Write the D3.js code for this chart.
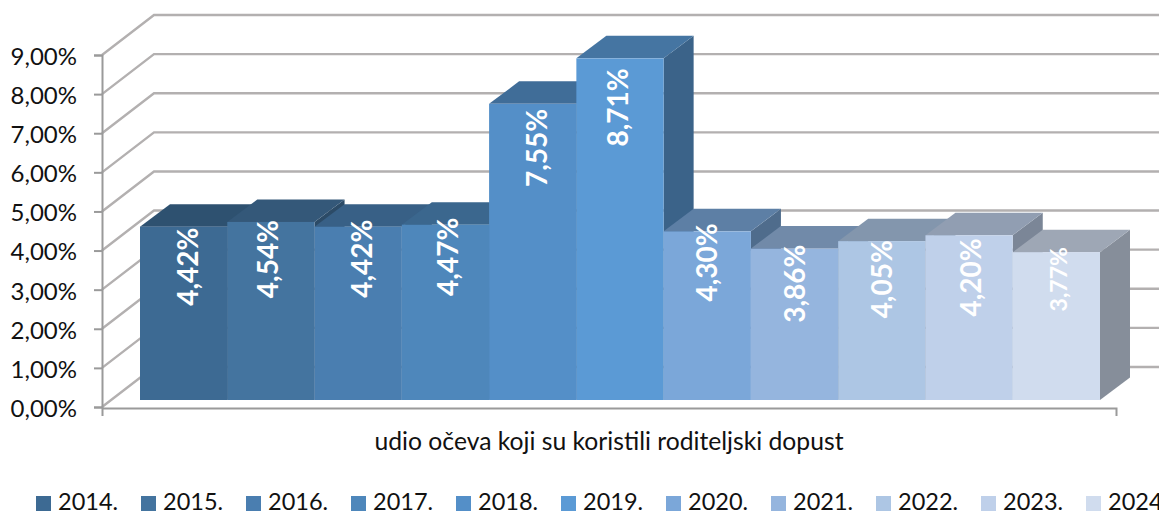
<!DOCTYPE html>
<html>
<head>
<meta charset="utf-8">
<script src="https://cdn.jsdelivr.net/npm/d3@7"></script>
<style>
html,body{margin:0;padding:0;background:#fff;overflow:hidden}
svg{display:block}
text{font-family:Lato,"Open Sans",sans-serif}
</style>
</head>
<body>
<svg id="chart" width="1159" height="512"></svg>
<script>
const years = ["2014.","2015.","2016.","2017.","2018.","2019.","2020.","2021.","2022.","2023.","2024."];
const values = [4.42,4.54,4.42,4.47,7.55,8.71,4.30,3.86,4.05,4.20,3.77];
const valueLabels = ["4,42%","4,54%","4,42%","4,47%","7,55%","8,71%","4,30%","3,86%","4,05%","4,20%","3,77%"];
const barColors = ["#3d6a93","#44749f","#4a7eb0","#4e87bb","#548fc8","#5b9ad5","#7ba7d9","#95b5de","#adc6e4","#bfd0ea","#d0dcee"];
const yTicks = [0,1,2,3,4,5,6,7,8,9];
const categoryTitle = "udio očeva koji su koristili roditeljski dopust";
// the source labels were hand-placed along their bars
const labelNudge = [1,-2,-7,-7,5,10,-8,-4,-1,3,-5];
const labelShift = [4,-3,4,2,4,-2,0,0,0,2,2];

const svg = d3.select("#chart");
const axisY = d3.scaleLinear().domain([0,9]).range([407,55]);
const barY = d3.scaleLinear().domain([0,9]).range([400,47]);
const barX = d3.scaleBand().domain(years).range([140,1100]);
const wall = {dx:52, dy:40, right:1159};
const depth = {dx:30, dy:22.5};
const grid = "#b3b0b0";

// walls
const g = svg.append("g").attr("fill","none").attr("stroke",grid).attr("stroke-width",2.4);
g.selectAll("path").data(yTicks).join("path")
  .attr("d", d => {
    const y = axisY(d);
    return d3.line()([[102,y],[102+wall.dx,y-wall.dy],[wall.right,y-wall.dy]]);
  });

// axes
const yAxis = svg.append("g").attr("transform","translate(102,0)")
  .call(d3.axisLeft(axisY).tickValues(yTicks).tickSize(8).tickPadding(17)
    .tickFormat(d => d3.format(".2f")(d).replace(".",",")+"%"));
const xBand = d3.scaleBand().domain([categoryTitle]).range([102,1116]);
const xAxis = svg.append("g").attr("transform","translate(0,408)")
  .call(d3.axisBottom(xBand).tickSizeInner(0).tickSizeOuter(8).tickPadding(24));
[yAxis,xAxis].forEach(a => {
  a.selectAll("path,line").attr("stroke","#9a9a9a").attr("stroke-width",2);
  a.selectAll("text").attr("fill","#111").attr("font-size",24).attr("font-family","Lato");
});
yAxis.selectAll("text").attr("dy","0.39em");
xAxis.selectAll("text").attr("font-size",24.7);

// bars
const bars = svg.append("g").selectAll("g").data(years).join("g");
bars.each(function(year,i){
  const b = d3.select(this);
  const x0 = barX(year), x1 = x0+barX.bandwidth();
  const top = barY(values[i]), base = barY(0);
  const c = d3.color(barColors[i]);
  const shade = k => d3.rgb(c.r*k,c.g*k,c.b*k).formatHex();
  const poly = pts => d3.line()(pts)+"Z";
  b.append("path").attr("fill",shade(0.645))
    .attr("d",poly([[x1,top],[x1+depth.dx,top-depth.dy],[x1+depth.dx,base-depth.dy],[x1,base]]));
  b.append("path").attr("fill",shade(0.76))
    .attr("d",poly([[x0,top],[x0+depth.dx,top-depth.dy],[x1+depth.dx,top-depth.dy],[x1,top]]));
  b.append("rect").attr("x",x0).attr("y",top).attr("width",barX.bandwidth()).attr("height",base-top).attr("fill",barColors[i]);
});

// data labels
svg.append("g").selectAll("text").data(years).join("text")
  .attr("transform",(d,i)=>`translate(${barX(d)+barX.bandwidth()/2+labelShift[i]},${barY(values[i])+labelNudge[i]}) rotate(-90)`)
  .attr("text-anchor","end")
  .attr("dy","0.36em")
  .attr("fill","#fff")
  .attr("font-weight",700)
  .attr("font-size",(d,i)=> i===10 ? 23 : 28)
  .text((d,i)=>valueLabels[i]);

// legend
const legend = svg.append("g").selectAll("g").data(years).join("g")
  .attr("transform",(d,i)=>`translate(${36+i*105},496)`);
legend.append("rect").attr("width",15).attr("height",15).attr("fill",(d,i)=>barColors[i]);
legend.append("text").attr("x",22).attr("y",14).attr("font-size",23.5).attr("fill","#111").text(d=>d);
</script>
</body>
</html>
